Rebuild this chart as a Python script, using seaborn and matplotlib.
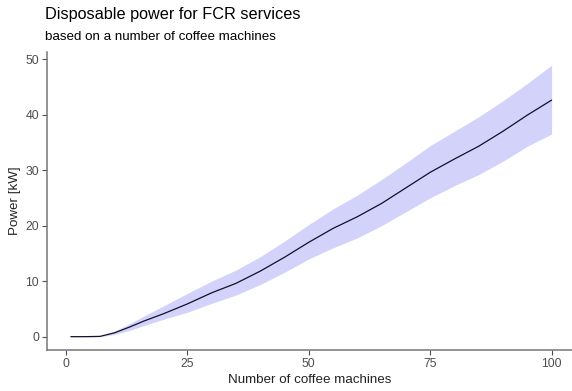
import matplotlib
matplotlib.use('Agg')
import matplotlib.pyplot as plt
import seaborn as sns
import pandas as pd

# values
machines = [1, 4, 7, 10, 13, 16, 20, 25, 30, 35, 40, 45, 50, 55, 60, 65, 70, 75, 80, 85, 90, 95, 100]
power = [0, 0, 0.05, 0.7, 1.7, 2.8, 4.1, 5.9, 7.9, 9.6, 11.8, 14.3, 17.0, 19.5, 21.6, 24.0, 26.8, 29.6, 32.0, 34.3, 37.0, 39.9, 42.6]
power_low = [0, 0, 0, 0.4, 1.1, 2.0, 3.1, 4.4, 6.0, 7.5, 9.4, 11.6, 14.0, 16.0, 17.8, 20.0, 22.5, 25.0, 27.2, 29.2, 31.6, 34.3, 36.5]
power_high = [0, 0, 0.1, 1.0, 2.3, 3.7, 5.5, 7.8, 10.0, 12.0, 14.4, 17.2, 20.2, 23.0, 25.5, 28.3, 31.3, 34.4, 37.0, 39.6, 42.5, 45.6, 48.9]
xticks = [0, 25, 50, 75, 100]
yticks = [0, 10, 20, 30, 40, 50]

df = pd.DataFrame({'machines': machines, 'power': power, 'low': power_low, 'high': power_high})

sns.set_style('white')
plt.rcParams['font.family'] = ['Liberation Sans', 'DejaVu Sans']

fig = plt.figure(figsize=(5.72, 3.91), dpi=100)
ax = fig.add_axes([46.8 / 572, 41 / 391, (572 - 46.8) / 572, 298.2 / 391])

# confidence band + mean line
ax.fill_between(df['machines'], df['low'], df['high'], color='#d2d2fa', linewidth=0)
sns.lineplot(data=df, x='machines', y='power', color='#10102a', linewidth=0.9, ax=ax)

ax.set_xlim(-3.95, 104.2)
ax.set_ylim(-2.4, 51.3)
ax.set_xticks(xticks)
ax.set_yticks(yticks)
ax.tick_params(axis='both', colors='#4d4d4d', labelsize=8.8, length=3.5, width=0.8, direction='out',
               bottom=True, left=True, pad=2)
for s in ['top', 'right']:
    ax.spines[s].set_visible(False)
for s in ['left', 'bottom']:
    ax.spines[s].set_color('#777777')
    ax.spines[s].set_linewidth(1.1)

ax.set_xlabel('Number of coffee machines', fontsize=9.6, color='#222222', labelpad=3)
ax.set_ylabel('Power [kW]', fontsize=9.6, color='#222222', labelpad=3)

fig.text(45 / 572, 1 - 14 / 391, 'Disposable power for FCR services', fontsize=11.7, color='black', va='center')
fig.text(45 / 572, 1 - 37 / 391, 'based on a number of coffee machines', fontsize=9.6, color='black', va='center')

fig.savefig('out.png', dpi=100)
